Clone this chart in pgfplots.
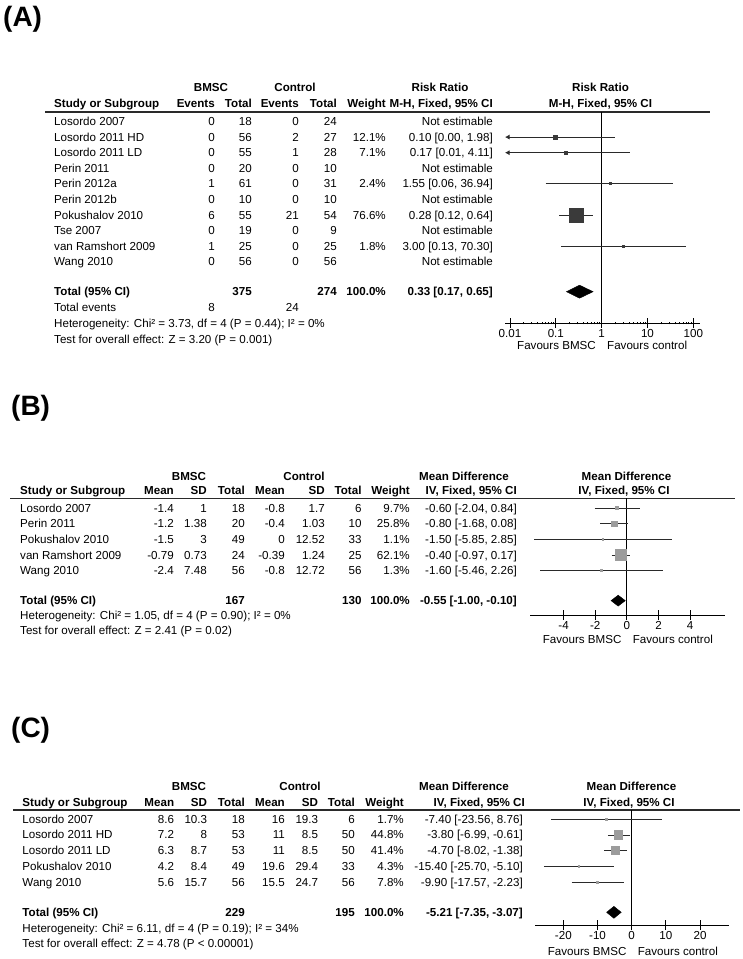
\documentclass[border=0pt]{standalone}
\usepackage{fontspec}
\setmainfont{Liberation Sans}
\usepackage{pgfplots}
\pgfplotsset{compat=1.18}
\usetikzlibrary{arrows.meta}
\definecolor{sqA}{HTML}{3A3A3A}
\definecolor{sqB}{HTML}{9C9C9C}
\definecolor{ciC}{HTML}{2A2A2A}
\newcommand{\fs}{\fontsize{11.6}{13}\selectfont}
\newcommand{\bfs}{\fontsize{11.2}{13}\selectfont\bfseries}
\newcommand{\txtL}[3]{\node[anchor=base west,inner sep=0pt] at (#1,{955-#2}) {#3};}
\newcommand{\txtR}[3]{\node[anchor=base east,inner sep=0pt] at (#1,{955-#2}) {#3};}
\newcommand{\txtC}[3]{\node[anchor=base,inner sep=0pt] at (#1,{955-#2}) {#3};}
\newcommand{\hl}[3]{\draw[line width=1.3pt,ciC] (#1,{959-#3}) -- (#2,{959-#3});}
% panel A row: y, study, e1, n1, e2, n2, weight, ci
\newcommand{\rowA}[8]{\txtL{54}{#1}{#2}\txtR{215}{#1}{#3}\txtR{252}{#1}{#4}\txtR{299}{#1}{#5}\txtR{337}{#1}{#6}\txtR{386}{#1}{#7}\txtR{493}{#1}{#8}}
% panel B row: y, study, m1, sd1, n1, m2, sd2, n2, weight
\newcommand{\rowB}[9]{\txtL{20}{#1}{#2}\txtR{174}{#1}{#3}\txtR{207}{#1}{#4}\txtR{245}{#1}{#5}\txtR{285}{#1}{#6}\txtR{325}{#1}{#7}\txtR{361.7}{#1}{#8}\txtR{410}{#1}{#9}}
\newcommand{\rowC}[9]{\txtL{22.3}{#1}{#2}\txtR{174.3}{#1}{#3}\txtR{207.3}{#1}{#4}\txtR{245}{#1}{#5}\txtR{285}{#1}{#6}\txtR{318.3}{#1}{#7}\txtR{355}{#1}{#8}\txtR{404}{#1}{#9}}
\pgfplotsset{
  forest/.style={scale only axis, anchor=south west, axis x line=bottom, axis y line=none,
    axis line style={-, line width=0.8pt, black}, xtick align=center, major tick length=10pt,
    minor xtick={}, tick style={black, line width=0.8pt},
    x tick label style={font=\fs, inner sep=0pt, yshift=-1pt}, clip=false},
  ci/.style={draw=ciC, line width=0.8pt, mark=none},
  vline/.style={draw=black, line width=0.8pt, mark=none},
  sqa/.style={only marks, mark=square*, mark options={fill=sqA, draw=sqA, line width=0pt}},
  sqb/.style={only marks, mark=square*, mark options={fill=sqB, draw=sqB, line width=0pt}},
  dia/.style={fill=black, draw=black, line width=0.4pt, mark=none}
}
\begin{document}
\begin{tikzpicture}[x=1pt,y=1pt,font=\fs]
\useasboundingbox (0,0) rectangle (743,959);
% ================= Panel A =================
\node[anchor=base west,inner sep=0pt,font=\fontsize{28}{30}\selectfont\bfseries] at (3,932) {(A)};
{\bfs
\txtC{211}{88}{BMSC}\txtC{295}{88}{Control}\txtC{440}{88}{Risk Ratio}\txtC{600.5}{88}{Risk Ratio}
\txtL{54}{104}{Study or Subgroup}\txtR{215}{104}{Events}\txtR{252}{104}{Total}\txtR{299}{104}{Events}\txtR{337}{104}{Total}\txtR{386}{104}{Weight}\txtR{493}{104}{M-H, Fixed, 95\% CI}\txtC{600.5}{104}{M-H, Fixed, 95\% CI}
}
\hl{45}{710}{112}
\rowA{121.5}{Losordo 2007}{0}{18}{0}{24}{}{Not estimable}
\rowA{137.1}{Losordo 2011 HD}{0}{56}{2}{27}{12.1\%}{0.10 [0.00, 1.98]}
\rowA{152.7}{Losordo 2011 LD}{0}{55}{1}{28}{7.1\%}{0.17 [0.01, 4.11]}
\rowA{168.3}{Perin 2011}{0}{20}{0}{10}{}{Not estimable}
\rowA{183.9}{Perin 2012a}{1}{61}{0}{31}{2.4\%}{1.55 [0.06, 36.94]}
\rowA{199.5}{Perin 2012b}{0}{10}{0}{10}{}{Not estimable}
\rowA{215.1}{Pokushalov 2010}{6}{55}{21}{54}{76.6\%}{0.28 [0.12, 0.64]}
\rowA{230.7}{Tse 2007}{0}{19}{0}{9}{}{Not estimable}
\rowA{246.3}{van Ramshort 2009}{1}{25}{0}{25}{1.8\%}{3.00 [0.13, 70.30]}
\rowA{261.9}{Wang 2010}{0}{56}{0}{56}{}{Not estimable}
{\bfs \rowA{291.7}{Total (95\% CI)}{}{375}{}{274}{100.0\%}{0.33 [0.17, 0.65]}}
\txtL{54}{308}{Total events}\txtR{215}{308}{8}\txtR{299}{308}{24}
\txtL{54}{324}{Heterogeneity: Chi² = 3.73, df = 4 (P = 0.44); I² = 0\%}
\txtL{54}{340}{Test for overall effect: Z = 3.20 (P = 0.001)}
\txtR{596}{346}{Favours BMSC}\txtL{607}{346}{Favours control}
\begin{axis}[forest, at={(505pt,636pt)}, width=195pt, height=211pt,
  xmode=log, xmin=0.00778, xmax=140, ymin=-13.917, ymax=-0.391,
  xtick={0.01,0.1,1,10,100}, xticklabels={0.01,0.1,1,10,100}]
\addplot[vline] coordinates {(1,-0.391) (1,-13.917)};
\addplot[ci, {Latex[length=4.5pt,width=5pt]}-] coordinates {(0.00778,-2) (1.98,-2)};
\addplot[ci, {Latex[length=4.5pt,width=5pt]}-] coordinates {(0.00778,-3) (4.11,-3)};
\addplot[ci] coordinates {(0.06,-5) (36.94,-5)};
\addplot[ci] coordinates {(0.12,-7) (0.64,-7)};
\addplot[ci] coordinates {(0.13,-9) (70.30,-9)};
\addplot[sqa, mark size=2pt] coordinates {(0.10,-2)};
\addplot[sqa, mark size=1.6pt] coordinates {(0.17,-3)};
\addplot[sqa, mark size=0.9pt] coordinates {(1.55,-5)};
\addplot[sqa, mark size=7pt] coordinates {(0.28,-7)};
\addplot[sqa, mark size=0.9pt] coordinates {(3.00,-9)};
\addplot[dia] coordinates {(0.17,-11.91) (0.33,-11.493) (0.65,-11.91) (0.33,-12.327)} -- cycle;
\end{axis}
% ================= Panel B =================
\node[anchor=base west,inner sep=0pt,font=\fontsize{28}{30}\selectfont\bfseries] at (11,543) {(B)};
{\bfs
\txtC{189}{476.7}{BMSC}\txtC{304}{476.7}{Control}\txtC{464}{476.7}{Mean Difference}\txtC{626.5}{476.7}{Mean Difference}
\rowB{491}{Study or Subgroup}{Mean}{SD}{Total}{Mean}{SD}{Total}{Weight}\txtR{517}{491}{IV, Fixed, 95\% CI}\txtC{624}{491}{IV, Fixed, 95\% CI}
}
\hl{10}{735}{498.3}
\rowB{508.3}{Losordo 2007}{-1.4}{1}{18}{-0.8}{1.7}{6}{9.7\%}\txtR{517}{508.3}{-0.60 [-2.04, 0.84]}
\rowB{523.9}{Perin 2011}{-1.2}{1.38}{20}{-0.4}{1.03}{10}{25.8\%}\txtR{517}{523.9}{-0.80 [-1.68, 0.08]}
\rowB{539.5}{Pokushalov 2010}{-1.5}{3}{49}{0}{12.52}{33}{1.1\%}\txtR{517}{539.5}{-1.50 [-5.85, 2.85]}
\rowB{555.1}{van Ramshort 2009}{-0.79}{0.73}{24}{-0.39}{1.24}{25}{62.1\%}\txtR{517}{555.1}{-0.40 [-0.97, 0.17]}
\rowB{570.7}{Wang 2010}{-2.4}{7.48}{56}{-0.8}{12.72}{56}{1.3\%}\txtR{517}{570.7}{-1.60 [-5.46, 2.26]}
{\bfs \rowB{600.7}{Total (95\% CI)}{}{}{167}{}{}{130}{100.0\%}\txtR{517}{600.7}{-0.55 [-1.00, -0.10]}}
\txtL{20}{615.5}{Heterogeneity: Chi² = 1.05, df = 4 (P = 0.90); I² = 0\%}
\txtL{20}{630.5}{Test for overall effect: Z = 2.41 (P = 0.02)}
\txtR{621.7}{640}{Favours BMSC}\txtL{632.7}{640}{Favours control}
\begin{axis}[forest, at={(530pt,344pt)}, width=195pt, height=116.7pt,
  xmin=-6.12, xmax=6.2, ymin=-7.84, ymax=-0.359,
  xtick={-4,-2,0,2,4}, xticklabels={-4,-2,0,2,4}]
\addplot[vline] coordinates {(0,-0.359) (0,-7.84)};
\addplot[ci] coordinates {(-2.04,-1) (0.84,-1)};
\addplot[ci] coordinates {(-1.68,-2) (0.08,-2)};
\addplot[ci] coordinates {(-5.85,-3) (2.85,-3)};
\addplot[ci] coordinates {(-0.97,-4) (0.17,-4)};
\addplot[ci] coordinates {(-5.46,-5) (2.26,-5)};
\addplot[sqb, mark size=1.5pt] coordinates {(-0.60,-1)};
\addplot[sqb, mark size=2.8pt] coordinates {(-0.80,-2)};
\addplot[sqb, mark size=0.7pt] coordinates {(-1.50,-3)};
\addplot[sqb, mark size=5.5pt] coordinates {(-0.40,-4)};
\addplot[sqb, mark size=0.7pt] coordinates {(-1.60,-5)};
\addplot[dia] coordinates {(-1.00,-6.92) (-0.55,-6.57) (-0.10,-6.92) (-0.55,-7.27)} -- cycle;
\end{axis}
% ================= Panel C =================
\node[anchor=base west,inner sep=0pt,font=\fontsize{28}{30}\selectfont\bfseries] at (11,221) {(C)};
{\bfs
\txtC{189}{786.7}{BMSC}\txtC{300}{786.7}{Control}\txtC{464}{786.7}{Mean Difference}\txtC{631.5}{786.7}{Mean Difference}
\rowC{802.3}{Study or Subgroup}{Mean}{SD}{Total}{Mean}{SD}{Total}{Weight}\txtR{525}{802.3}{IV, Fixed, 95\% CI}\txtC{629}{802.3}{IV, Fixed, 95\% CI}
}
\hl{13}{740}{810}
\rowC{819.3}{Losordo 2007}{8.6}{10.3}{18}{16}{19.3}{6}{1.7\%}\txtR{523}{819.3}{-7.40 [-23.56, 8.76]}
\rowC{835.0}{Losordo 2011 HD}{7.2}{8}{53}{11}{8.5}{50}{44.8\%}\txtR{523}{835.0}{-3.80 [-6.99, -0.61]}
\rowC{850.8}{Losordo 2011 LD}{6.3}{8.7}{53}{11}{8.5}{50}{41.4\%}\txtR{523}{850.8}{-4.70 [-8.02, -1.38]}
\rowC{866.5}{Pokushalov 2010}{4.2}{8.4}{49}{19.6}{29.4}{33}{4.3\%}\txtR{523}{866.5}{-15.40 [-25.70, -5.10]}
\rowC{882.3}{Wang 2010}{5.6}{15.7}{56}{15.5}{24.7}{56}{7.8\%}\txtR{523}{882.3}{-9.90 [-17.57, -2.23]}
{\bfs \rowC{912.3}{Total (95\% CI)}{}{}{229}{}{}{195}{100.0\%}\txtR{523}{912.3}{-5.21 [-7.35, -3.07]}}
\txtL{22.3}{928.5}{Heterogeneity: Chi² = 6.11, df = 4 (P = 0.19); I² = 34\%}
\txtL{22.3}{944}{Test for overall effect: Z = 4.78 (P < 0.00001)}
\txtR{626.7}{951}{Favours BMSC}\txtL{637.7}{951}{Favours control}
\begin{axis}[forest, at={(535pt,34pt)}, width=194.3pt, height=115pt,
  xmin=-28.3, xmax=28.56, ymin=-7.71, ymax=-0.41,
  xtick={-20,-10,0,10,20}, xticklabels={-20,-10,0,10,20}]
\addplot[vline] coordinates {(0,-0.41) (0,-7.71)};
\addplot[ci] coordinates {(-23.56,-1) (8.76,-1)};
\addplot[ci] coordinates {(-6.99,-2) (-0.61,-2)};
\addplot[ci] coordinates {(-8.02,-3) (-1.38,-3)};
\addplot[ci] coordinates {(-25.70,-4) (-5.10,-4)};
\addplot[ci] coordinates {(-17.57,-5) (-2.23,-5)};
\addplot[sqb, mark size=0.8pt] coordinates {(-7.40,-1)};
\addplot[sqb, mark size=4.2pt] coordinates {(-3.80,-2)};
\addplot[sqb, mark size=4pt] coordinates {(-4.70,-3)};
\addplot[sqb, mark size=0.8pt] coordinates {(-15.40,-4)};
\addplot[sqb, mark size=1pt] coordinates {(-9.90,-5)};
\addplot[dia] coordinates {(-7.35,-6.905) (-5.21,-6.525) (-3.07,-6.905) (-5.21,-7.285)} -- cycle;
\end{axis}
\end{tikzpicture}
\end{document}
